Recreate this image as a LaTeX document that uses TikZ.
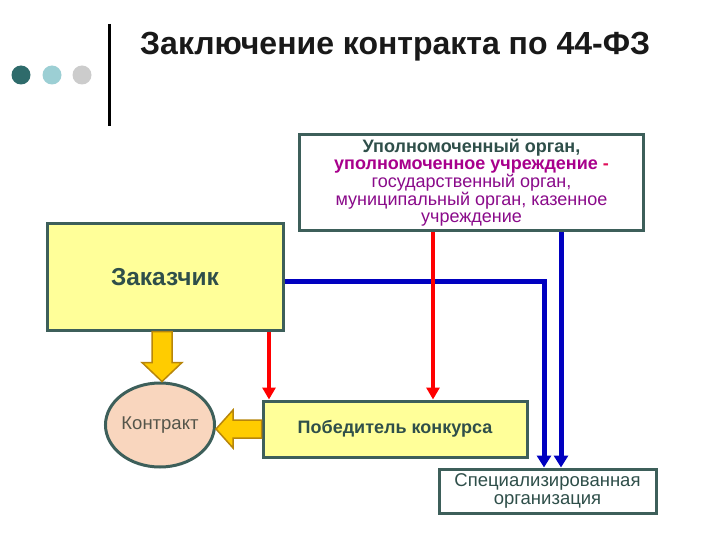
\documentclass[tikz,border=0pt]{standalone}
\usepackage{fontspec}
\setmainfont{Liberation Sans}
\usetikzlibrary{arrows.meta, calc, shapes.geometric}
\definecolor{dotDark}{HTML}{2E6B6B}
\definecolor{dotMid}{HTML}{9CCFD4}
\definecolor{dotLight}{HTML}{CCCCCC}
\definecolor{boxBorder}{HTML}{3D5F5A}
\definecolor{boxYellow}{HTML}{FFFF99}
\definecolor{boxPeach}{HTML}{F9D6BE}
\definecolor{txtSlate}{HTML}{2F4F4A}
\definecolor{txtMagenta}{HTML}{A8008C}
\definecolor{txtPurple}{HTML}{8A0A8A}
\definecolor{txtRed}{HTML}{E0105A}
\definecolor{txtBrown}{HTML}{55554A}
\definecolor{lineRed}{HTML}{FF0000}
\definecolor{lineBlue}{HTML}{0000C0}
\definecolor{arrowFill}{HTML}{FFCC00}
\definecolor{arrowGold}{HTML}{B8860B}
\tikzset{
  arrowRed/.style={-{Triangle[length=12pt, width=13pt]}, draw=lineRed, line width=4pt},
  arrowBlue/.style={-{Triangle[length=12pt, width=14pt]}, draw=lineBlue, line width=5pt},
  arrowYellow/.style={draw=arrowGold, fill=arrowFill, line width=1.5pt, line join=miter},
  boxW/.style={rectangle, draw=boxBorder, line width=3pt, fill=white, align=center,
               inner sep=2pt, text=txtSlate},
  boxY/.style={rectangle, draw=boxBorder, line width=3pt, fill=boxYellow, align=center,
               inner sep=2pt, text=txtSlate},
}

\begin{document}
\begin{tikzpicture}[x=1pt, y=-1pt]
  \useasboundingbox[fill=white] (0,0) rectangle (720,540);
  % header
  \fill[dotDark]  (21,75) circle[radius=9.5pt];
  \fill[dotMid]   (52,75) circle[radius=9.5pt];
  \fill[dotLight] (82,75) circle[radius=9.5pt];
  \draw[line width=3pt] (109,24) -- (109,126);
  \node[anchor=base west, inner sep=0pt, text=black!90,
        font=\bfseries\fontsize{32}{34}\selectfont] (title) at (140,55)
        {Заключение контракта по 44-ФЗ};

  % boxes
  \node[boxW, minimum width=344pt, minimum height=96pt,
        font=\fontsize{18}{17}\selectfont] (upol) at (471.5,182.5)
        {\textbf{Уполномоченный орган,}\\
         \textcolor{txtMagenta}{\textbf{уполномоченное учреждение}} \textcolor{txtRed}{\textbf{-}}\\
         \textcolor{txtPurple}{государственный орган,}\\
         \textcolor{txtPurple}{муниципальный орган, казенное}\\
         \textcolor{txtPurple}{учреждение}};
  \node[boxY, minimum width=236pt, minimum height=106pt,
        font=\bfseries\fontsize{24.5}{26}\selectfont] (zak) at (165,277) {Заказчик};
  \node[ellipse, draw=boxBorder, line width=3pt, fill=boxPeach, text=txtBrown,
        minimum width=100pt, minimum height=84pt, inner sep=0pt,
        font=\fontsize{18.5}{20}\selectfont] (con) at (160,425) {Контракт};
  \node[boxY, minimum width=264pt, minimum height=56pt,
        font=\bfseries\fontsize{18}{20}\selectfont] (pob) at (395,429) {Победитель конкурса};
  \node[boxW, minimum width=217pt, minimum height=44pt,
        font=\fontsize{18.5}{17.5}\selectfont] (spec) at (547.5,491)
        {Специализированная\\организация};

  % connectors
  \coordinate (r1) at (269,0);
  \coordinate (r2) at (433,0);
  \coordinate (b1) at (544,0);
  \coordinate (b2) at (561,0);
  \draw[arrowBlue] ([yshift=-4pt]zak.east) -| (spec.north -| b1);
  \draw[arrowBlue] (upol.south -| b2) -- (spec.north -| b2);
  \draw[arrowRed] (zak.south -| r1) -- (pob.north -| r1);
  \draw[arrowRed] (upol.south -| r2) -- (pob.north -| r2);

  % block arrows
  \coordinate (dTop) at ($(con.north |- zak.south)+(2,0)$);
  \coordinate (dTip) at ($(con.north)+(2,0)$);
  \draw[arrowYellow] (dTip) -- ($(dTip)+(-20,-19)$) -- ($(dTip)+(-10,-19)$)
    -- ($(dTop)+(-10,0)$) -- ($(dTop)+(10,0)$) -- ($(dTip)+(10,-19)$)
    -- ($(dTip)+(20,-19)$) -- cycle;
  \coordinate (lTip) at (con.east |- pob.west);
  \draw[arrowYellow] (lTip) -- ($(lTip)+(17,-19)$) -- ($(lTip)+(17,-9)$)
    -- ($(pob.west)+(0,-9)$) -- ($(pob.west)+(0,9)$) -- ($(lTip)+(17,9)$)
    -- ($(lTip)+(17,19)$) -- cycle;
\end{tikzpicture}
\end{document}
